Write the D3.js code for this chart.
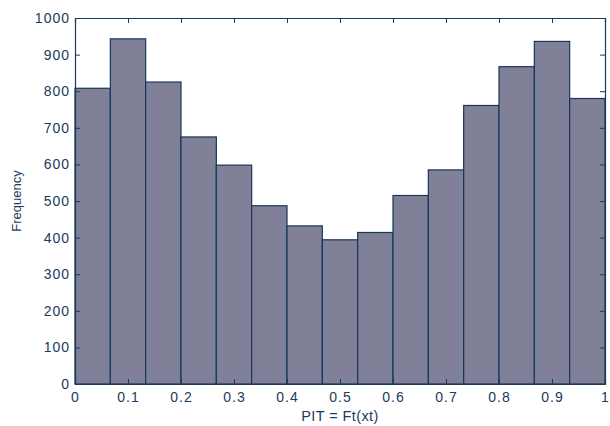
<!DOCTYPE html>
<html>
<head>
<meta charset="utf-8">
<script src="https://cdn.jsdelivr.net/npm/d3@7"></script>
<style>
  body { margin: 0; background: #fff; }
  text { font-family: "Liberation Sans", Arial, sans-serif; fill: #1b3a5e; }
</style>
</head>
<body>
<svg id="chart"></svg>
<script>
// histogram counts, 15 equal bins over [0, 1]
const binEdges = d3.range(16).map(i => i / 15);
const counts = [808, 943, 825, 675, 598, 487, 432, 394, 414, 515, 585, 761, 867, 936, 780];
const xTicks = [0, 0.1, 0.2, 0.3, 0.4, 0.5, 0.6, 0.7, 0.8, 0.9, 1];
const yTicks = [0, 100, 200, 300, 400, 500, 600, 700, 800, 900, 1000];

const width = 610, height = 426;
const margin = { left: 75, right: 605, top: 18, bottom: 384 };
const ink = '#1b3a5e';

let svg = d3.select('#chart').attr('width', width).attr('height', height);

let x = d3.scaleLinear().domain([0, 1]).range([margin.left, margin.right]);
let y = d3.scaleLinear().domain([0, 1000]).range([margin.bottom, margin.top]);

let bins = counts.map((c, i) => ({ x0: binEdges[i], x1: binEdges[i + 1], n: c }));

svg.append('g')
  .selectAll('rect')
  .data(bins)
  .enter()
  .append('rect')
  .attr('x', d => x(d.x0))
  .attr('y', d => y(d.n))
  .attr('width', d => x(d.x1) - x(d.x0))
  .attr('height', d => y(0) - y(d.n))
  .attr('fill', '#808099')
  .attr('stroke', '#17365a')
  .attr('stroke-width', 1.2);

// axes, ticks pointing inward like matlab's box
let xAxis = d3.axisBottom(x).tickValues(xTicks).tickSize(-5).tickPadding(8)
  .tickFormat(d3.format(''));
let yAxis = d3.axisLeft(y).tickValues(yTicks).tickSize(-5).tickPadding(5)
  .tickFormat(d3.format('d'));

svg.append('g').attr('transform', `translate(0,${margin.bottom})`).call(xAxis);
svg.append('g').attr('transform', `translate(${margin.left},0)`).call(yAxis);
svg.append('g').attr('transform', `translate(0,${margin.top})`)
  .call(d3.axisTop(x).tickValues(xTicks).tickSize(-5).tickFormat(''));
svg.append('g').attr('transform', `translate(${margin.right},0)`)
  .call(d3.axisRight(y).tickValues(yTicks).tickSize(-5).tickFormat(''));

svg.selectAll('.domain').attr('stroke', ink).attr('stroke-width', 1.2);
svg.selectAll('.tick line').attr('stroke', ink);
svg.selectAll('.tick text')
  .attr('font-size', 14)
  .attr('letter-spacing', 1)
  .attr('font-family', '"Liberation Sans", Arial, sans-serif')
  .style('fill', ink);

svg.append('text')
  .attr('x', (margin.left + margin.right) / 2)
  .attr('y', 421)
  .attr('text-anchor', 'middle')
  .attr('font-size', 14.5)
  .attr('letter-spacing', 0.4)
  .text('PIT = Ft(xt)');

svg.append('text')
  .attr('transform', `translate(21,${(margin.top + margin.bottom) / 2}) rotate(-90)`)
  .attr('text-anchor', 'middle')
  .attr('font-size', 13)
  .text('Frequency');
</script>
</body>
</html>
